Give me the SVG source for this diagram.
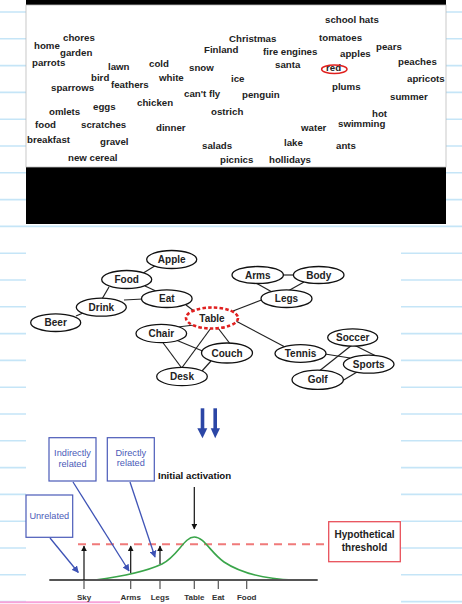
<svg xmlns="http://www.w3.org/2000/svg" width="462" height="604" viewBox="0 0 462 604">
<defs>
<style>
.rule{stroke:#c5e5f7;stroke-width:1.6}
.w{font-family:"Liberation Sans",Arial,sans-serif;font-weight:bold;font-size:9.7px;fill:#222}
.node ellipse{fill:#fff;stroke:#111;stroke-width:1.3}
.node text{font-family:"Liberation Sans",Arial,sans-serif;font-weight:bold;font-size:10px;fill:#222;text-anchor:middle}
.edges line{stroke:#222;stroke-width:1.2}
.bbox{fill:#fff;stroke:#4a5ab8;stroke-width:1.2}
.btxt{font-family:"Liberation Sans",Arial,sans-serif;font-size:9.2px;fill:#4a5ab8;text-anchor:middle}
.ax{font-family:"Liberation Sans",Arial,sans-serif;font-weight:bold;font-size:8px;fill:#333;text-anchor:middle}
.tick{stroke:#555;stroke-width:1.2}
</style>
<marker id="blk" viewBox="0 0 10 10" refX="9" refY="5" markerWidth="6" markerHeight="6" orient="auto" markerUnits="userSpaceOnUse"><path d="M0,0 L10,5 L0,10 Z" fill="#111"/></marker>
<marker id="blu" viewBox="0 0 10 10" refX="9" refY="5" markerWidth="7" markerHeight="7" orient="auto" markerUnits="userSpaceOnUse"><path d="M0,0 L10,5 L0,10 Z" fill="#3d52b5"/></marker>
</defs>
<rect width="462" height="604" fill="#fff"/>
<g id="rules">
<line class="rule" x1="0" y1="12" x2="462" y2="12"/>
<line class="rule" x1="0" y1="38.8" x2="462" y2="38.8"/>
<line class="rule" x1="0" y1="65.6" x2="462" y2="65.6"/>
<line class="rule" x1="0" y1="92.4" x2="462" y2="92.4"/>
<line class="rule" x1="0" y1="119.2" x2="462" y2="119.2"/>
<line class="rule" x1="0" y1="146" x2="462" y2="146"/>
<line class="rule" x1="0" y1="172.8" x2="462" y2="172.8"/>
<line class="rule" x1="0" y1="199.6" x2="462" y2="199.6"/>
<line class="rule" x1="0" y1="226.4" x2="462" y2="226.4"/>
<line class="rule" x1="0" y1="253.2" x2="462" y2="253.2"/>
<line class="rule" x1="0" y1="280" x2="462" y2="280"/>
<line class="rule" x1="0" y1="306.8" x2="462" y2="306.8"/>
<line class="rule" x1="0" y1="333.6" x2="462" y2="333.6"/>
<line class="rule" x1="0" y1="360.4" x2="462" y2="360.4"/>
<line class="rule" x1="0" y1="387.2" x2="462" y2="387.2"/>
<line class="rule" x1="0" y1="414" x2="462" y2="414"/>
<line class="rule" x1="0" y1="440.8" x2="462" y2="440.8"/>
<line class="rule" x1="0" y1="467.6" x2="462" y2="467.6"/>
<line class="rule" x1="0" y1="494.4" x2="462" y2="494.4"/>
<line class="rule" x1="0" y1="521.2" x2="462" y2="521.2"/>
<line class="rule" x1="0" y1="548" x2="462" y2="548"/>
<line class="rule" x1="0" y1="574.8" x2="462" y2="574.8"/>
<line class="rule" x1="0" y1="601.6" x2="462" y2="601.6"/>
</g>
<rect x="26" y="229" width="375" height="375" fill="#fff"/>
<line x1="0" y1="602.3" x2="120" y2="602.3" stroke="#f7a3d8" stroke-width="2"/>
<g id="word-panel">
<rect x="26" y="0" width="420" height="224" fill="#000"/>
<rect x="26" y="5" width="420" height="162" fill="#fff" stroke="#bbb" stroke-width="0.8"/>
<text class="w" x="325" y="23">school hats</text>
<text class="w" x="229" y="42">Christmas</text>
<text class="w" x="319" y="41">tomatoes</text>
<text class="w" x="63" y="40.5">chores</text>
<text class="w" x="34" y="48.5">home</text>
<text class="w" x="60" y="56">garden</text>
<text class="w" x="204" y="53">Finland</text>
<text class="w" x="263" y="55">fire engines</text>
<text class="w" x="340" y="57">apples</text>
<text class="w" x="376" y="50">pears</text>
<text class="w" x="32" y="66">parrots</text>
<text class="w" x="108" y="70">lawn</text>
<text class="w" x="149" y="67">cold</text>
<text class="w" x="189" y="71">snow</text>
<text class="w" x="275" y="68">santa</text>
<text class="w" x="326" y="71">red</text>
<ellipse cx="334.3" cy="69.2" rx="12.7" ry="4.2" fill="none" stroke="#e0201e" stroke-width="1.5"/>
<text class="w" x="398" y="65">peaches</text>
<text class="w" x="91" y="81">bird</text>
<text class="w" x="159" y="81">white</text>
<text class="w" x="231" y="82">ice</text>
<text class="w" x="407" y="82">apricots</text>
<text class="w" x="51" y="91">sparrows</text>
<text class="w" x="111" y="88">feathers</text>
<text class="w" x="332" y="90">plums</text>
<text class="w" x="184" y="97">can't fly</text>
<text class="w" x="242" y="98">penguin</text>
<text class="w" x="390" y="100">summer</text>
<text class="w" x="137" y="106">chicken</text>
<text class="w" x="49" y="115">omlets</text>
<text class="w" x="93" y="110">eggs</text>
<text class="w" x="211" y="115">ostrich</text>
<text class="w" x="372" y="117">hot</text>
<text class="w" x="35" y="128">food</text>
<text class="w" x="81" y="128">scratches</text>
<text class="w" x="156" y="131">dinner</text>
<text class="w" x="301" y="131">water</text>
<text class="w" x="338" y="127">swimming</text>
<text class="w" x="27" y="143">breakfast</text>
<text class="w" x="100" y="145">gravel</text>
<text class="w" x="202" y="149">salads</text>
<text class="w" x="284" y="146">lake</text>
<text class="w" x="336" y="149">ants</text>
<text class="w" x="68" y="161">new cereal</text>
<text class="w" x="220" y="163">picnics</text>
<text class="w" x="269" y="163">hollidays</text>
</g>
<g id="connectors" class="edges">
<line x1="140" y1="275" x2="158" y2="264"/>
<line x1="145" y1="286" x2="158" y2="292"/>
<line x1="109" y1="287" x2="102" y2="299"/>
<line x1="124" y1="300" x2="143" y2="299"/>
<line x1="83" y1="313" x2="76" y2="316"/>
<line x1="186" y1="305" x2="194" y2="311"/>
<line x1="178" y1="327" x2="194" y2="325"/>
<line x1="161.7" y1="341" x2="181.7" y2="368"/>
<line x1="176" y1="340" x2="205" y2="352"/>
<line x1="211" y1="328" x2="181.7" y2="368"/>
<line x1="202" y1="371" x2="211" y2="361"/>
<line x1="218" y1="328" x2="231" y2="345"/>
<line x1="233" y1="311" x2="264" y2="299"/>
<line x1="256" y1="283" x2="272" y2="292"/>
<line x1="282" y1="275" x2="294" y2="275"/>
<line x1="304" y1="282" x2="288" y2="291"/>
<line x1="234" y1="320" x2="285" y2="347"/>
<line x1="325" y1="354" x2="350" y2="358"/>
<line x1="354" y1="345" x2="378" y2="357"/>
<line x1="352" y1="345" x2="318" y2="372"/>
<line x1="342" y1="381" x2="357" y2="372"/>
</g>
<g id="apple" class="node"><ellipse cx="171.7" cy="259.5" rx="25" ry="9"/><text x="171.7" y="263">Apple</text></g>
<g id="food" class="node"><ellipse cx="126.7" cy="279.5" rx="25" ry="9"/><text x="126.7" y="283">Food</text></g>
<g id="eat" class="node"><ellipse cx="166.8" cy="298.7" rx="25.3" ry="8.8"/><text x="166.8" y="302.2">Eat</text></g>
<g id="drink" class="node"><ellipse cx="101.3" cy="307.2" rx="25" ry="9"/><text x="101.3" y="310.7">Drink</text></g>
<g id="beer" class="node"><ellipse cx="55.7" cy="322.7" rx="25" ry="8.8"/><text x="55.7" y="326.2">Beer</text></g>
<g id="table" class="node"><ellipse cx="212" cy="318" rx="26" ry="10.5" style="stroke:#e02020;stroke-width:2.6;stroke-dasharray:3.5 2.2"/><text x="212" y="321.5">Table</text></g>
<g id="chair" class="node"><ellipse cx="161.3" cy="333.5" rx="25.3" ry="9.2"/><text x="161.3" y="337">Chair</text></g>
<g id="couch" class="node"><ellipse cx="227" cy="353" rx="25.5" ry="10"/><text x="227" y="356.5">Couch</text></g>
<g id="desk" class="node"><ellipse cx="182" cy="376.5" rx="25.3" ry="9.2"/><text x="182" y="380">Desk</text></g>
<g id="arms" class="node"><ellipse cx="257.7" cy="275" rx="25.7" ry="8.5"/><text x="257.7" y="278.5">Arms</text></g>
<g id="body" class="node"><ellipse cx="318.7" cy="275" rx="25.3" ry="8.5"/><text x="318.7" y="278.5">Body</text></g>
<g id="legs" class="node"><ellipse cx="286.5" cy="298.7" rx="25.5" ry="8.8"/><text x="286.5" y="302.2">Legs</text></g>
<g id="soccer" class="node"><ellipse cx="352.7" cy="337.5" rx="25" ry="8.6"/><text x="352.7" y="341">Soccer</text></g>
<g id="tennis" class="node"><ellipse cx="300.5" cy="353.5" rx="25.5" ry="8.8"/><text x="300.5" y="357">Tennis</text></g>
<g id="sports" class="node"><ellipse cx="368.7" cy="364.2" rx="25.3" ry="9"/><text x="368.7" y="367.7">Sports</text></g>
<g id="golf" class="node"><ellipse cx="317.7" cy="379.8" rx="25.7" ry="9.6"/><text x="317.7" y="383.3">Golf</text></g>
<g id="down-arrows" fill="#2b46a6">
<rect x="200.7" y="408.3" width="3.6" height="21"/>
<polygon points="197.3,428.3 207.3,428.3 202.5,438.3"/>
<rect x="213.4" y="408.3" width="3.6" height="21"/>
<polygon points="210.7,428.3 220,428.3 215.2,438.3"/>
</g>
<g id="chart">
<line x1="78" y1="544.3" x2="329" y2="544.3" stroke="#f07a7a" stroke-width="2" stroke-dasharray="8 6"/>
<path d="M95,580 C118,577 145,572 162,564 C178,556 184,537 194.3,537 C204,537 211,553 224,562 C242,574 268,579 294,580" fill="none" stroke="#3aa54a" stroke-width="1.6"/>
<line x1="49.3" y1="580" x2="317.7" y2="580" stroke="#555" stroke-width="2"/>
<line class="tick" x1="84" y1="580" x2="84" y2="589"/>
<line class="tick" x1="130.7" y1="580" x2="130.7" y2="589"/>
<line class="tick" x1="160" y1="580" x2="160" y2="589"/>
<line class="tick" x1="194.3" y1="580" x2="194.3" y2="589"/>
<line class="tick" x1="218.3" y1="580" x2="218.3" y2="589"/>
<line class="tick" x1="246.7" y1="580" x2="246.7" y2="589"/>
<text class="ax" x="84" y="600">Sky</text>
<text class="ax" x="130.7" y="600">Arms</text>
<text class="ax" x="160" y="600">Legs</text>
<text class="ax" x="194.3" y="600">Table</text>
<text class="ax" x="218.3" y="600">Eat</text>
<text class="ax" x="246.7" y="600">Food</text>
<g stroke="#111" stroke-width="1.2">
<line x1="84" y1="580" x2="84" y2="546" marker-end="url(#blk)"/>
<line x1="130.7" y1="573" x2="130.7" y2="546" marker-end="url(#blk)"/>
<line x1="160" y1="564" x2="160" y2="546" marker-end="url(#blk)"/>
<line x1="194.3" y1="487" x2="194.3" y2="529" marker-end="url(#blk)"/>
</g>
<text x="158" y="479" style="font-family:'Liberation Sans',Arial,sans-serif;font-weight:bold;font-size:9.7px;fill:#111">Initial activation</text>
<g id="box-unrelated"><rect class="bbox" x="26" y="495" width="46.7" height="42.3"/><text class="btxt" x="49.3" y="519">Unrelated</text></g>
<g id="box-indirect"><rect class="bbox" x="49" y="437.7" width="47" height="43.3"/><text class="btxt" x="72.5" y="456">Indirectly</text><text class="btxt" x="72.5" y="467">related</text></g>
<g id="box-direct"><rect class="bbox" x="107.3" y="437.7" width="47" height="43.3"/><text class="btxt" x="130.8" y="455.5">Directly</text><text class="btxt" x="130.8" y="466">related</text></g>
<g stroke="#3d52b5" stroke-width="1.3">
<line x1="50" y1="538" x2="78.3" y2="572.5" marker-end="url(#blu)"/>
<line x1="73" y1="482" x2="129" y2="571" marker-end="url(#blu)"/>
<line x1="130" y1="482" x2="155" y2="557" marker-end="url(#blu)"/>
</g>
<g id="threshold"><rect x="328.7" y="521.7" width="71.6" height="40" fill="#fff" stroke="#e8505a" stroke-width="1.3"/>
<text x="364.5" y="537.5" style="font-family:'Liberation Sans',Arial,sans-serif;font-weight:bold;font-size:10px;fill:#222;text-anchor:middle">Hypothetical</text>
<text x="364.5" y="550.5" style="font-family:'Liberation Sans',Arial,sans-serif;font-weight:bold;font-size:10px;fill:#222;text-anchor:middle">threshold</text></g>
</g>
</svg>
